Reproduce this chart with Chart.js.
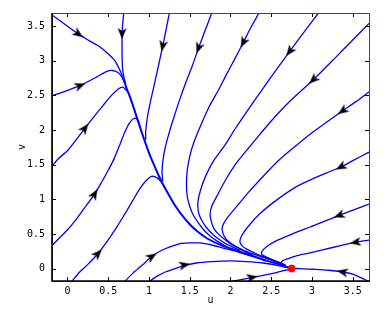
<!DOCTYPE html>
<html>
<head>
<meta charset="utf-8">
<script src="https://cdn.jsdelivr.net/npm/chart.js@4.4.1/dist/chart.umd.min.js"></script>
<style>
   html, body { margin: 0; padding: 0; background: #fff; }
   #phaseChart { display: block; }
</style>
</head>
<body>
<canvas id="phaseChart" width="391" height="316"></canvas>
<script>
const uTicks = [0, 0.5, 1, 1.5, 2, 2.5, 3, 3.5];
const vTicks = [0, 0.5, 1, 1.5, 2, 2.5, 3, 3.5];
const uRange = [-0.19, 3.7];
const vRange = [-0.18, 3.69];

// streamlines, points listed in the direction of the flow [u, v]
const line1 = [[-0.2, 3.67], [0.0, 3.5], [0.13, 3.39], [0.28, 3.28], [0.4, 3.2], [0.5, 3.1], [0.57, 3.02], [0.62, 2.92], [0.66, 2.82], [0.69, 2.72]];
const line2 = [[0.69, 3.69], [0.675, 3.5], [0.67, 3.3], [0.67, 3.1], [0.675, 2.9], [0.69, 2.78], [0.71, 2.67]];
const line3 = [[-0.2, 2.49], [-0.05, 2.55], [0.15, 2.64], [0.35, 2.76], [0.47, 2.84], [0.55, 2.86], [0.62, 2.83], [0.67, 2.76], [0.7, 2.68]];
const line4 = [[-0.2, 1.47], [-0.1, 1.6], [0.0, 1.7], [0.1, 1.85], [0.21, 2.02], [0.33, 2.2], [0.44, 2.36], [0.54, 2.5], [0.62, 2.59], [0.68, 2.62], [0.73, 2.56]];
const line5 = [[-0.2, 0.32], [-0.1, 0.44], [0.0, 0.56], [0.1, 0.7], [0.2, 0.86], [0.33, 1.07], [0.42, 1.25], [0.5, 1.42], [0.57, 1.58], [0.64, 1.78], [0.7, 1.96], [0.76, 2.1], [0.82, 2.17], [0.86, 2.15], [0.89, 2.05]];
const line6 = [[0.05, -0.19], [0.15, -0.05], [0.25, 0.06], [0.37, 0.21], [0.48, 0.38], [0.6, 0.59], [0.7, 0.78], [0.8, 0.98], [0.88, 1.14], [0.95, 1.25], [1.03, 1.33], [1.1, 1.31], [1.15, 1.25], [1.2, 1.15]];
const line7 = [[0.7, -0.19], [0.8, -0.07], [0.92, 0.05], [1.03, 0.17], [1.15, 0.26], [1.25, 0.31], [1.38, 0.36], [1.5, 0.37], [1.62, 0.37], [1.77, 0.34], [1.9, 0.3], [2.05, 0.255], [2.2, 0.2], [2.35, 0.15]];
const line8 = [[1.0, -0.19], [1.1, -0.11], [1.2, -0.05], [1.3, -0.01], [1.42, 0.04], [1.58, 0.08], [1.77, 0.1], [2.0, 0.11], [2.2, 0.1], [2.4, 0.08], [2.6, 0.04], [2.75, 0.0]];
const line9 = [[2.0, -0.19], [2.13, -0.16], [2.26, -0.13], [2.4, -0.1], [2.52, -0.07], [2.62, -0.04], [2.7, -0.02], [2.75, 0.0]];
const line10 = [[3.7, -0.19], [3.6, -0.13], [3.5, -0.08], [3.38, -0.05], [3.2, -0.025], [3.0, -0.01], [2.85, 0.0], [2.75, 0.0]];
const line11 = [[3.7, 0.41], [3.54, 0.38], [3.35, 0.33], [3.13, 0.27], [2.95, 0.22], [2.8, 0.18], [2.7, 0.14], [2.64, 0.11], [2.62, 0.08], [2.64, 0.05], [2.69, 0.025], [2.75, 0.0]];
const line12 = [[3.7, 0.93], [3.52, 0.85], [3.34, 0.77], [3.15, 0.68], [2.98, 0.6], [2.82, 0.53], [2.68, 0.46], [2.56, 0.4], [2.46, 0.33], [2.4, 0.27], [2.38, 0.22], [2.4, 0.19], [2.45, 0.16], [2.52, 0.125], [2.6, 0.09], [2.68, 0.05]];
const line13 = [[3.7, 1.68], [3.52, 1.57], [3.36, 1.47], [3.18, 1.38], [3.0, 1.29], [2.82, 1.19], [2.65, 1.06], [2.5, 0.93], [2.36, 0.79], [2.24, 0.64], [2.15, 0.5], [2.12, 0.42], [2.12, 0.37], [2.15, 0.32], [2.2, 0.28], [2.27, 0.24], [2.36, 0.19], [2.46, 0.15], [2.56, 0.1], [2.66, 0.05]];
const line14 = [[3.7, 2.55], [3.54, 2.41], [3.38, 2.28], [3.2, 2.13], [3.0, 1.96], [2.8, 1.77], [2.58, 1.55], [2.4, 1.33], [2.22, 1.1], [2.08, 0.9], [1.96, 0.73], [1.9, 0.6], [1.91, 0.5], [1.95, 0.42], [2.01, 0.36], [2.08, 0.31], [2.17, 0.26], [2.27, 0.215], [2.38, 0.17], [2.5, 0.12], [2.6, 0.08]];
const line15 = [[3.7, 3.54], [3.5, 3.3], [3.3, 3.06], [3.02, 2.73], [2.75, 2.44], [2.5, 2.13], [2.3, 1.85], [2.09, 1.55], [1.95, 1.3], [1.84, 1.06], [1.77, 0.9], [1.75, 0.78], [1.77, 0.66], [1.8, 0.57], [1.86, 0.49], [1.93, 0.42], [2.01, 0.35], [2.09, 0.3], [2.18, 0.245], [2.28, 0.19]];
const line16 = [[3.08, 3.69], [2.9, 3.41], [2.73, 3.14], [2.55, 2.85], [2.38, 2.57], [2.22, 2.3], [2.07, 2.04], [1.93, 1.78], [1.79, 1.55], [1.69, 1.32], [1.63, 1.12], [1.6, 0.95], [1.61, 0.8], [1.65, 0.69], [1.7, 0.6], [1.77, 0.51], [1.85, 0.43], [1.94, 0.36], [2.03, 0.31], [2.12, 0.26]];
const line17 = [[2.35, 3.69], [2.25, 3.48], [2.16, 3.27], [2.05, 3.02], [1.95, 2.8], [1.85, 2.57], [1.74, 2.34], [1.64, 2.08], [1.55, 1.82], [1.5, 1.62], [1.47, 1.42], [1.46, 1.22], [1.47, 1.04], [1.5, 0.9], [1.54, 0.78], [1.6, 0.67], [1.67, 0.56], [1.75, 0.47], [1.85, 0.385], [1.95, 0.315]];
const line18 = [[1.77, 3.69], [1.69, 3.44], [1.61, 3.19], [1.53, 2.92], [1.45, 2.68], [1.38, 2.45], [1.31, 2.2], [1.25, 1.97], [1.2, 1.75], [1.17, 1.55], [1.16, 1.38], [1.17, 1.26]];
const line19 = [[1.25, 3.69], [1.21, 3.45], [1.17, 3.22], [1.12, 2.95], [1.07, 2.68], [1.02, 2.42], [0.98, 2.18], [0.96, 1.98], [0.96, 1.86]];

// the curve all left hand lines crowd onto before reaching the stable point
const slowCurve = [[0.69, 2.74], [0.72, 2.62], [0.76, 2.5], [0.81, 2.33], [0.86, 2.15], [0.91, 1.97], [0.96, 1.8], [1.01, 1.64], [1.06, 1.5], [1.12, 1.34], [1.18, 1.2], [1.25, 1.05], [1.32, 0.91], [1.4, 0.78], [1.5, 0.64], [1.6, 0.53], [1.72, 0.43], [1.86, 0.35], [2.0, 0.29], [2.15, 0.23], [2.3, 0.17], [2.45, 0.11], [2.6, 0.06], [2.75, 0.0]];

// [line number, u, v]
const arrowMarks = [
   [1, 0.13, 3.39], [2, 0.67, 3.4], [3, 0.15, 2.64], [4, 0.21, 2.02], [5, 0.33, 1.07],
   [6, 0.37, 0.21], [7, 1.03, 0.17], [8, 1.43, 0.05], [9, 2.26, -0.13], [10, 3.38, -0.05],
   [11, 3.54, 0.38], [12, 3.34, 0.77], [13, 3.36, 1.47], [14, 3.38, 2.28], [15, 3.02, 2.73],
   [16, 2.73, 3.14], [17, 2.16, 3.27], [18, 1.61, 3.19], [19, 1.17, 3.22]
];

const stablePoint = [2.75, 0];

const allLines = [line1, line2, line3, line4, line5, line6, line7, line8, line9, line10,
   line11, line12, line13, line14, line15, line16, line17, line18, line19];



const toXY = (pts) => pts.map(p => ({ x: p[0], y: p[1] }));

const makeArrowHead = () => {
   const c = document.createElement('canvas');
   c.width = 14; c.height = 14;
   const g = c.getContext('2d');
   g.translate(7, 7);
   g.beginPath();
   g.moveTo(6, 0);
   g.lineTo(-5, -4.5);
   g.lineTo(-2, 0);
   g.lineTo(-5, 4.5);
   g.closePath();
   g.fillStyle = '#000';
   g.fill();
   return c;
}

// angle of the line under the arrow, in screen pixels
const arrowAngle = (context) => {
   if (context.dataIndex === undefined) return 0;
   const chart = context.chart;
   const mark = arrowMarks[context.dataIndex];
   const pts = allLines[mark[0] - 1];
   const xs = chart.scales.x, ys = chart.scales.y;
   const px = (p) => [xs.getPixelForValue(p[0]), ys.getPixelForValue(p[1])];
   const m = px([mark[1], mark[2]]);
   let best = 0, bestD = Infinity;
   for (let i = 0; i < pts.length - 1; ++i) {
      const a = px(pts[i]), b = px(pts[i + 1]);
      const d = Math.hypot((a[0] + b[0]) / 2 - m[0], (a[1] + b[1]) / 2 - m[1]);
      if (d < bestD) { bestD = d; best = i; }
   }
   const a = px(pts[best]), b = px(pts[best + 1]);
   return Math.atan2(b[1] - a[1], b[0] - a[0]) * 180 / Math.PI;
}

const framePlugin = {
   id: 'frame',
   afterDraw(chart) {
      const { ctx, chartArea: a, scales } = chart;
      ctx.save();
      ctx.strokeStyle = '#000';
      ctx.lineWidth = 1;
      ctx.beginPath();
      for (let t of uTicks) {
         const x = Math.round(scales.x.getPixelForValue(t)) + 0.5;
         ctx.moveTo(x, a.bottom); ctx.lineTo(x, a.bottom - 4);
         ctx.moveTo(x, a.top); ctx.lineTo(x, a.top + 4);
      }
      for (let t of vTicks) {
         const y = Math.round(scales.y.getPixelForValue(t)) + 0.5;
         ctx.moveTo(a.left, y); ctx.lineTo(a.left + 4, y);
         ctx.moveTo(a.right, y); ctx.lineTo(a.right - 4, y);
      }
      ctx.stroke();

      ctx.strokeStyle = '#444';
      ctx.strokeRect(Math.round(a.left) + 0.5, Math.round(a.top) + 0.5, Math.round(a.right - a.left), Math.round(a.bottom - a.top));

      ctx.strokeStyle = '#000';
      ctx.lineWidth = 1.6;
      ctx.beginPath();
      ctx.moveTo(Math.round(a.left), Math.round(a.top));
      ctx.lineTo(Math.round(a.left), Math.round(a.bottom));
      ctx.lineTo(Math.round(a.right) + 1, Math.round(a.bottom));
      ctx.stroke();
      ctx.restore();
   }
}



const createChart = () => {
   const arrowHead = makeArrowHead();

   const datasets = [];

   datasets.push({
      data: [{ x: stablePoint[0], y: stablePoint[1] }],
      pointRadius: 3.5,
      pointBackgroundColor: '#ff0000',
      pointBorderColor: '#ff0000',
      pointBorderWidth: 1,
   });

   datasets.push({
      data: arrowMarks.map(m => ({ x: m[1], y: m[2] })),
      pointStyle: arrowHead,
      rotation: arrowAngle,
      pointRadius: 6,
   });

   datasets.push({
      data: toXY(slowCurve),
      showLine: true,
      borderColor: '#0000ff',
      borderWidth: 2,
      pointRadius: 0,
      tension: 0.25,
   });

   for (let pts of allLines) {
      datasets.push({
         data: toXY(pts),
         showLine: true,
         borderColor: '#0000ff',
         borderWidth: 1.3,
         pointRadius: 0,
         tension: 0.25,
      });
   }

   const tickFont = { family: 'DejaVu Sans Mono', size: 10 };

   const config = {
      type: 'scatter',
      data: { datasets: datasets },
      options: {
         responsive: false,
         animation: false,
         devicePixelRatio: 1,
         layout: { padding: { left: 0, right: 22, top: 10, bottom: 0 } },
         plugins: {
            legend: { display: false },
            tooltip: { enabled: false },
         },
         scales: {
            x: {
               type: 'linear',
               min: uRange[0],
               max: uRange[1],
               grid: { display: false, drawTicks: false },
               border: { display: false },
               afterBuildTicks: (s) => { s.ticks = uTicks.map(v => ({ value: v })); },
               afterFit: (s) => { s.height = 35; },
               ticks: {
                  color: '#000',
                  font: tickFont,
                  padding: 4,
                  maxRotation: 0,
                  callback: (v) => String(v),
               },
               title: {
                  display: true,
                  text: 'u',
                  color: '#000',
                  font: tickFont,
                  padding: { top: 0, bottom: 10 },
               },
            },
            y: {
               type: 'linear',
               min: vRange[0],
               max: vRange[1],
               grid: { display: false, drawTicks: false },
               border: { display: false },
               afterBuildTicks: (s) => { s.ticks = vTicks.map(v => ({ value: v })); },
               afterFit: (s) => { s.width = 52; },
               ticks: {
                  color: '#000',
                  font: tickFont,
                  padding: 7,
                  callback: (v) => String(v),
               },
               title: {
                  display: true,
                  text: 'v',
                  color: '#000',
                  font: tickFont,
                  padding: { top: 16, bottom: 0 },
               },
            }
         }
      },
      plugins: [framePlugin],
   };

   new Chart(document.getElementById('phaseChart').getContext('2d'), config);
}

createChart();
</script>
</body>
</html>
